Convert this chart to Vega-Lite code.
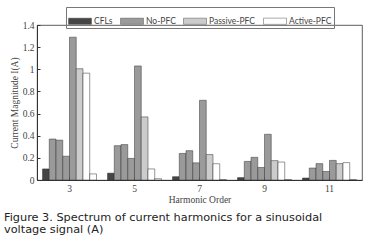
{
  "$schema": "https://vega.github.io/schema/vega-lite/v6.json",
  "autosize": "none",
  "width": 325,
  "height": 155,
  "padding": {"left": 37, "top": 25, "right": 6, "bottom": 65},
  "background": "white",
  "config": {
    "view": {"stroke": "#333", "strokeWidth": 0.8},
    "axis": {
      "labelFont": "Liberation Serif", "titleFont": "Liberation Serif",
      "labelColor": "#444", "titleColor": "#444", "labelFontSize": 9.5, "titleFontSize": 9.5,
      "titleFontWeight": "normal", "domainColor": "#333", "tickColor": "#333",
      "grid": false, "tickSize": -3, "labelPadding": 6
    }
  },
  "title": {
    "text": "Figure 3.  Spectrum of current harmonics for a sinusoidal",
    "subtitle": "voltage signal (A)",
    "orient": "bottom", "anchor": "start", "frame": "group", "dx": -33, "offset": 8,
    "font": "DejaVu Sans", "fontSize": 11.3, "fontWeight": "normal", "color": "#222",
    "subtitleFont": "DejaVu Sans", "subtitleFontSize": 11.3, "subtitleColor": "#222", "subtitlePadding": 1
  },
  "data": {"values": [
    {"h": 3, "s": 1, "type": "CFLs", "v": 0.10},
    {"h": 3, "s": 2, "type": "No-PFC", "v": 0.37},
    {"h": 3, "s": 3, "type": "No-PFC", "v": 0.36},
    {"h": 3, "s": 4, "type": "No-PFC", "v": 0.215},
    {"h": 3, "s": 5, "type": "No-PFC", "v": 1.29},
    {"h": 3, "s": 6, "type": "Passive-PFC", "v": 1.005},
    {"h": 3, "s": 7, "type": "Active-PFC", "v": 0.965},
    {"h": 3, "s": 8, "type": "Active-PFC", "v": 0.055},
    {"h": 5, "s": 1, "type": "CFLs", "v": 0.062},
    {"h": 5, "s": 2, "type": "No-PFC", "v": 0.31},
    {"h": 5, "s": 3, "type": "No-PFC", "v": 0.32},
    {"h": 5, "s": 4, "type": "No-PFC", "v": 0.195},
    {"h": 5, "s": 5, "type": "No-PFC", "v": 1.03},
    {"h": 5, "s": 6, "type": "Passive-PFC", "v": 0.57},
    {"h": 5, "s": 7, "type": "Active-PFC", "v": 0.10},
    {"h": 5, "s": 8, "type": "Active-PFC", "v": 0.012},
    {"h": 7, "s": 1, "type": "CFLs", "v": 0.03},
    {"h": 7, "s": 2, "type": "No-PFC", "v": 0.24},
    {"h": 7, "s": 3, "type": "No-PFC", "v": 0.265},
    {"h": 7, "s": 4, "type": "No-PFC", "v": 0.155},
    {"h": 7, "s": 5, "type": "No-PFC", "v": 0.72},
    {"h": 7, "s": 6, "type": "Passive-PFC", "v": 0.23},
    {"h": 7, "s": 7, "type": "Active-PFC", "v": 0.147},
    {"h": 7, "s": 8, "type": "Active-PFC", "v": 0.004},
    {"h": 9, "s": 1, "type": "CFLs", "v": 0.022},
    {"h": 9, "s": 2, "type": "No-PFC", "v": 0.168},
    {"h": 9, "s": 3, "type": "No-PFC", "v": 0.205},
    {"h": 9, "s": 4, "type": "No-PFC", "v": 0.113},
    {"h": 9, "s": 5, "type": "No-PFC", "v": 0.413},
    {"h": 9, "s": 6, "type": "Passive-PFC", "v": 0.175},
    {"h": 9, "s": 7, "type": "Active-PFC", "v": 0.162},
    {"h": 9, "s": 8, "type": "Active-PFC", "v": 0.004},
    {"h": 11, "s": 1, "type": "CFLs", "v": 0.018},
    {"h": 11, "s": 2, "type": "No-PFC", "v": 0.108},
    {"h": 11, "s": 3, "type": "No-PFC", "v": 0.148},
    {"h": 11, "s": 4, "type": "No-PFC", "v": 0.077},
    {"h": 11, "s": 5, "type": "No-PFC", "v": 0.177},
    {"h": 11, "s": 6, "type": "Passive-PFC", "v": 0.148},
    {"h": 11, "s": 7, "type": "Active-PFC", "v": 0.157},
    {"h": 11, "s": 8, "type": "Active-PFC", "v": 0.004}
  ]},
  "mark": {"type": "bar", "stroke": "#333", "strokeWidth": 0.5},
  "encoding": {
    "x": {
      "field": "h", "type": "ordinal", "sort": [3, 5, 7, 9, 11],
      "scale": {"paddingInner": 0.17, "paddingOuter": 0.085},
      "axis": {"title": "Harmonic Order", "labelAngle": 0, "titlePadding": 2}
    },
    "xOffset": {"field": "s", "type": "ordinal", "scale": {"paddingInner": 0, "paddingOuter": 0}},
    "y": {
      "field": "v", "type": "quantitative",
      "scale": {"domain": [0, 1.4], "nice": false},
      "axis": {"title": "Current Magnitude I(A)", "values": [0, 0.2, 0.4, 0.6, 0.8, 1, 1.2, 1.4], "format": "~g", "titlePadding": 3}
    },
    "fill": {
      "field": "type", "type": "nominal",
      "scale": {"domain": ["CFLs", "No-PFC", "Passive-PFC", "Active-PFC"], "range": ["#454545", "#9a9a9a", "#cccccc", "#ffffff"]},
      "legend": {
        "title": null, "orient": "none", "direction": "horizontal", "legendX": 29, "legendY": -18,
        "symbolType": "M-1,-0.27H1V0.27H-1Z", "symbolSize": 529,
        "symbolStrokeColor": "#555", "symbolStrokeWidth": 0.5,
        "labelFont": "Lato", "labelFontSize": 8.5, "labelColor": "#444",
        "columnPadding": 6, "padding": 2, "strokeColor": "#777",
        "labelOffset": 2
      }
    }
  }
}
